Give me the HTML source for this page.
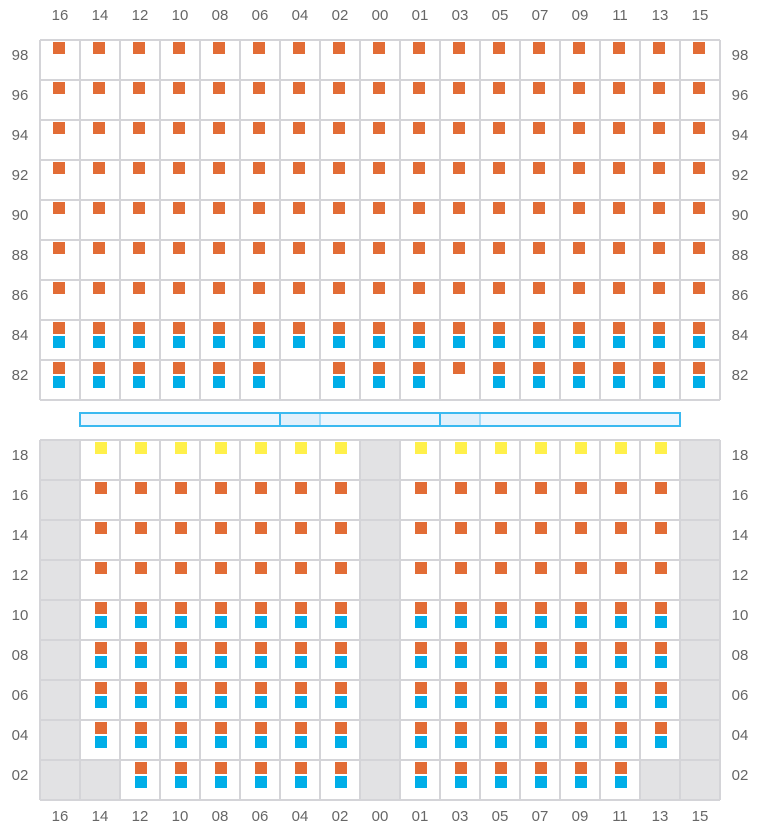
<!DOCTYPE html>
<html><head><meta charset="utf-8"><style>
html,body{margin:0;padding:0;background:#fff}
svg{display:block}
text{font-family:"Liberation Sans",sans-serif;font-size:15px;fill:#666}
</style></head><body>
<svg id="s" width="760" height="840" xmlns="http://www.w3.org/2000/svg">
<g id="g"></g>
<g text-anchor="middle">
<text x="60" y="20">16</text><text x="100" y="20">14</text><text x="140" y="20">12</text><text x="180" y="20">10</text><text x="220" y="20">08</text><text x="260" y="20">06</text><text x="300" y="20">04</text><text x="340" y="20">02</text><text x="380" y="20">00</text><text x="420" y="20">01</text><text x="460" y="20">03</text><text x="500" y="20">05</text><text x="540" y="20">07</text><text x="580" y="20">09</text><text x="620" y="20">11</text><text x="660" y="20">13</text><text x="700" y="20">15</text>
<text x="60" y="821">16</text><text x="100" y="821">14</text><text x="140" y="821">12</text><text x="180" y="821">10</text><text x="220" y="821">08</text><text x="260" y="821">06</text><text x="300" y="821">04</text><text x="340" y="821">02</text><text x="380" y="821">00</text><text x="420" y="821">01</text><text x="460" y="821">03</text><text x="500" y="821">05</text><text x="540" y="821">07</text><text x="580" y="821">09</text><text x="620" y="821">11</text><text x="660" y="821">13</text><text x="700" y="821">15</text>
<text x="20" y="60">98</text><text x="20" y="100">96</text><text x="20" y="140">94</text><text x="20" y="180">92</text><text x="20" y="220">90</text><text x="20" y="260">88</text><text x="20" y="300">86</text><text x="20" y="340">84</text><text x="20" y="380">82</text>
<text x="740" y="60">98</text><text x="740" y="100">96</text><text x="740" y="140">94</text><text x="740" y="180">92</text><text x="740" y="220">90</text><text x="740" y="260">88</text><text x="740" y="300">86</text><text x="740" y="340">84</text><text x="740" y="380">82</text>
<text x="20" y="460">18</text><text x="20" y="500">16</text><text x="20" y="540">14</text><text x="20" y="580">12</text><text x="20" y="620">10</text><text x="20" y="660">08</text><text x="20" y="700">06</text><text x="20" y="740">04</text><text x="20" y="780">02</text>
<text x="740" y="460">18</text><text x="740" y="500">16</text><text x="740" y="540">14</text><text x="740" y="580">12</text><text x="740" y="620">10</text><text x="740" y="660">08</text><text x="740" y="700">06</text><text x="740" y="740">04</text><text x="740" y="780">02</text>
</g>
</svg>
<script>
var g=document.getElementById('g'),h='';
function r(x,y,w,hh,f,extra){h+='<rect x="'+x+'" y="'+y+'" width="'+w+'" height="'+hh+'" fill="'+f+'" '+(extra||'')+'/>';}
var O='#e26c35',B='#00aee8',Y='#fff04a',G='#e2e2e4';
// top grid squares
for(var c=0;c<17;c++){var x=40+c*40;
 for(var rr=0;rr<9;rr++){var y=40+rr*40;
  if(rr<7){r(x+13,y+2,12,12,O);}
  else if(rr==7){r(x+13,y+2,12,12,O);r(x+13,y+16,12,12,B);}
  else{ if(c==6)continue; r(x+13,y+2,12,12,O); if(c!=10) r(x+13,y+16,12,12,B);}
 }}
// bottom grid
for(var c=0;c<17;c++){var x=40+c*40;
 for(var rr=0;rr<9;rr++){var y=440+rr*40;
  var gray=(c==0||c==8||c==16||(rr==8&&(c==1||c==15)));
  if(gray){r(x,y,40,40,G);continue;}
  if(rr==0)r(x+15,y+2,12,12,Y);
  else if(rr<4)r(x+15,y+2,12,12,O);
  else{r(x+15,y+2,12,12,O);r(x+15,y+16,12,12,B);}
 }}
// grid lines
var L='';
for(var k=0;k<=17;k++){var x=40+k*40;L+='M'+x+' 40V400M'+x+' 440V800';}
for(var k=0;k<=9;k++){L+='M40 '+(40+k*40)+'H720M40 '+(440+k*40)+'H720';}
h+='<path d="'+L+'" stroke="#d4d4d8" stroke-width="2" fill="none"/>';
// bar
r(80,413,600,13,'#eef6fe');
r(280,413,40,13,'#e2f0fb');r(440,413,40,13,'#e2f0fb');
h+='<path d="M280 413V426M440 413V426" stroke="#3bb9f0" stroke-width="2"/>';
h+='<path d="M320 413V426M480 413V426" stroke="#8fd3f5" stroke-width="1.5"/>';
h+='<rect x="80" y="413" width="600" height="13" fill="none" stroke="#3bb9f0" stroke-width="2"/>';
g.innerHTML=h;
</script>
</body></html>
